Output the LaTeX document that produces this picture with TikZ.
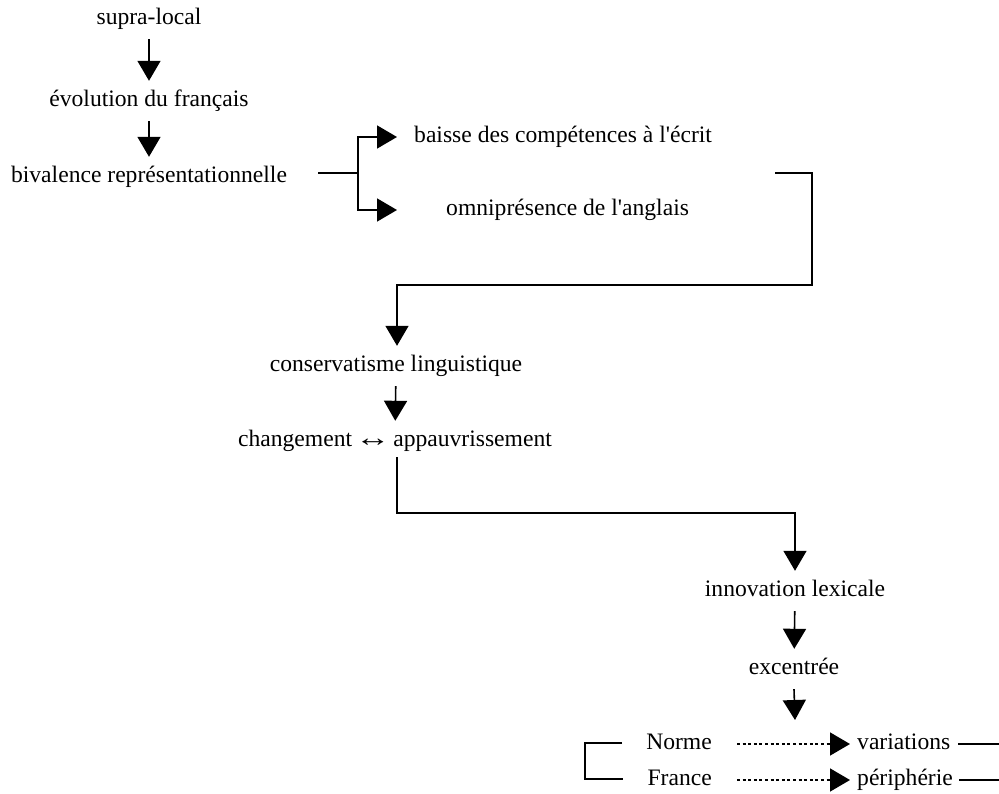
\documentclass[tikz,border=0pt]{standalone}
\usepackage{fontspec}
\usepackage{graphicx}
\setmainfont{Liberation Serif}
\usetikzlibrary{arrows.meta}
\newcommand{\bothways}{\kern-3pt\scalebox{1.5}[1.1]{↔}\kern-3pt}
\begin{document}
\begin{tikzpicture}[x=1pt,y=-1pt,
  lbl/.style={inner xsep=0pt, inner ysep=0pt, text height=16pt, text depth=5pt,
              minimum height=40pt, font=\fontsize{23.6}{27}\selectfont},
  link/.style={line width=1.6pt, black},
  arr/.style={link, -{Triangle[width=23pt,length=20pt]}},
  dotarr/.style={arr, dash pattern=on 3pt off 2.6pt}]
\useasboundingbox (0,0) rectangle (999,794);

% main chain of labels
\node[lbl] (supra)  at (149,19)  {supra-local};
\node[lbl] (evol)   at (149,101) {évolution du français};
\node[lbl] (biv)    at (149,177) {bivalence représentationnelle};
\node[lbl, anchor=west] (baisse) at (414,137) {baisse des compétences à l\textquotesingle écrit};
\node[lbl, anchor=west] (omni)   at (446,210) {omniprésence de l\textquotesingle anglais};
\node[lbl] (cons)   at (396,366) {conservatisme linguistique};
\node[lbl] (chg)    at (395,441) {changement \bothways\ appauvrissement};
\node[lbl] (innov)  at (795,591) {innovation lexicale};
\node[lbl] (exc)    at (794,669) {excentrée};
\node[lbl, anchor=east] (norme)  at (712,744) {Norme};
\node[lbl, anchor=east] (france) at (712,780) {France};
\node[lbl, anchor=west] (var)    at (857,744) {variations};
\node[lbl, anchor=west] (peri)   at (857,780) {périphérie};

% junction points of the routed connectors
\coordinate (bivEnd) at (318,173);
\coordinate (fork)   at (358,173);
\coordinate (brIn)   at (775,173);
\coordinate (brDown) at (812,285);
\coordinate (chgOut) at (397,457);
\coordinate (excTip) at (795,720);
\coordinate (lbTop)  at (585,743);
\coordinate (lbBot)  at (585,779);

% vertical steps
\draw[arr] (supra) -- (evol);
\draw[arr] (evol) -- (biv);
\draw[arr] (cons) -- (chg);
\draw[arr] (innov) -- (exc);
\draw[arr] (exc.south) -- (excTip);

% fork from bivalence to the two consequences
\draw[link] (bivEnd) -- (fork);
\draw[arr] (fork) |- ([xshift=-17pt]baisse.west);
\draw[arr] (fork) |- ([xshift=-49pt]omni.west);

% bracket leading back to conservatisme
\draw[arr] (brIn) -| (brDown) -| (cons.north -| chgOut);

% from changement to innovation
\draw[arr] (chgOut) |- (795,513) -- (innov.north);

% bottom pairs
\draw[link] ([xshift=-24pt]norme.west |- lbTop) -- (lbTop) -- (lbBot) -- ([xshift=-24pt]france.west |- lbBot);
\draw[dotarr] ([xshift=25pt]norme.east) -- ([xshift=-7pt]var.west);
\draw[dotarr] ([xshift=25pt]france.east) -- ([xshift=-7pt]peri.west);
\draw[link] ([xshift=8pt]var.east) -- (999,744);
\draw[link] ([xshift=6pt]peri.east) -- (999,780);
\end{tikzpicture}
\end{document}
